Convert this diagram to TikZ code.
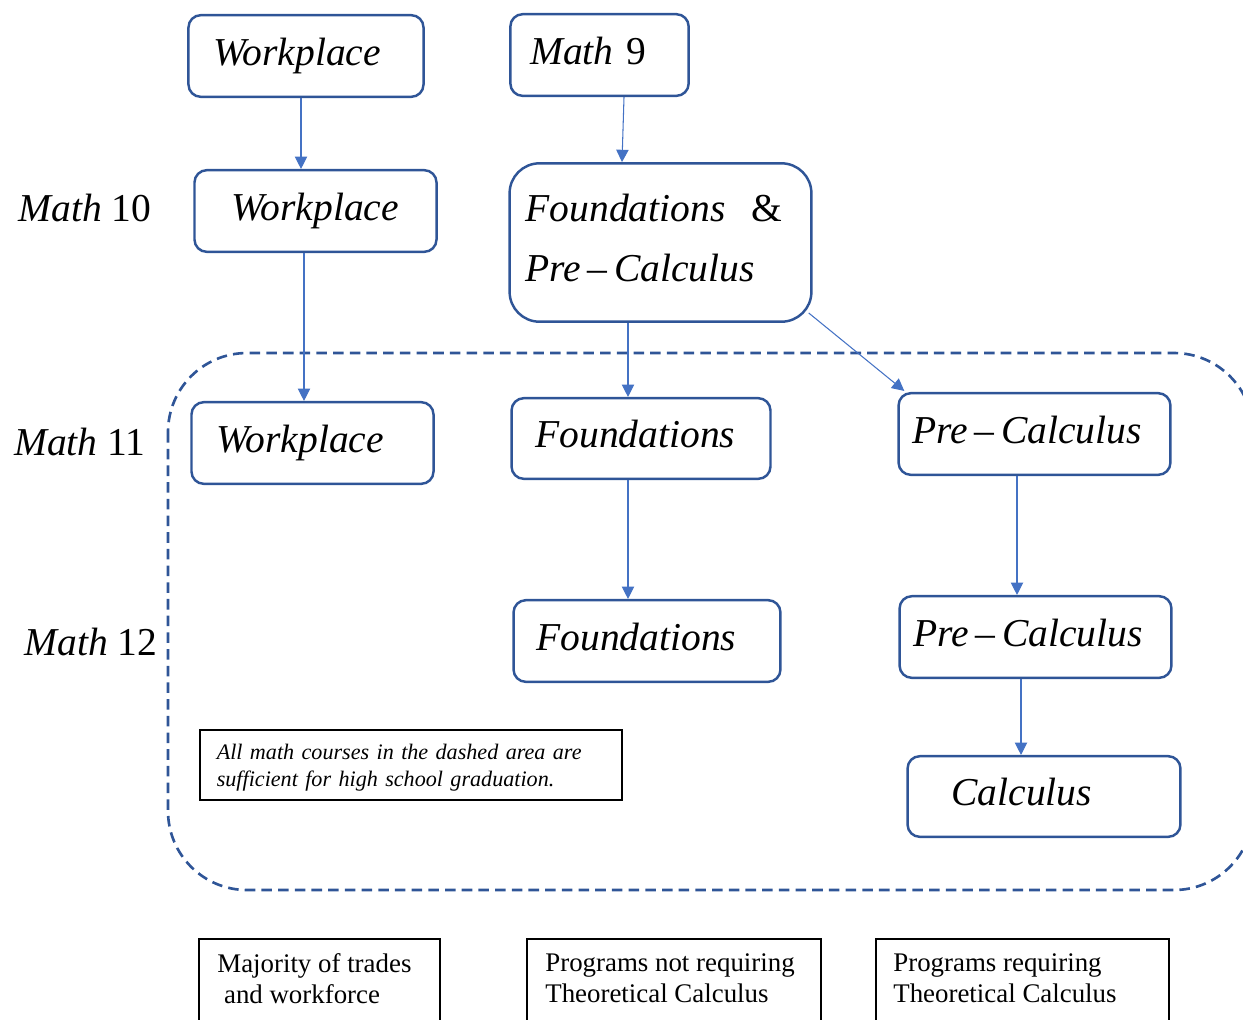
\documentclass[tikz,border=0pt]{standalone}
\usepackage{fontspec}
\setmainfont{Liberation Serif}
\usetikzlibrary{arrows.meta,calc}
\definecolor{boxblue}{HTML}{2F5597}
\definecolor{arrblue}{HTML}{4472C4}
\tikzset{
  x=0.02cm, y=-0.02cm,
  rbox/.style n args={3}{draw=boxblue, line width=1.4pt, rounded corners=7pt,
     minimum height=#2*0.5669pt, text width={(#1-2*#3)*0.5669pt}, inner xsep={#3*0.5669pt},
     inner ysep=0pt, align=left, text height=15.5pt, text depth=5pt,
     font=\fontsize{22.5}{30}\selectfont},
  note/.style={draw=black, line width=0.8pt, inner sep=0pt, align=left},
  arr/.style={draw=arrblue, line width=0.6pt, -{Triangle[width=7pt,length=7pt]}},
  lvl/.style={font=\fontsize{22.5}{30}\selectfont, inner sep=0pt},
  region/.style={draw=boxblue, line width=1.5pt, dash pattern=on 6pt off 3.5pt, rounded corners=45pt},
  botbox/.style={draw=black, line width=0.8pt},
  bottext/.style={anchor=north west, inner sep=0pt, align=left, font=\fontsize{15.3}{17.6}\selectfont}
}
\begin{document}
\begin{tikzpicture}
\useasboundingbox (0,0) rectangle (1243,1019);
% dashed region
\draw[region] (168,353) rectangle (1253,890);
% level labels
\node[lvl] (l10) at (85,208) {\itshape Math\upshape\ 10};
\node[lvl] (l11) at (80,442) {\itshape Math\upshape\ 11};
\node[lvl] (l12) at (91,642) {\itshape Math\upshape\ 12};
% boxes
\node[rbox={236}{82}{25}] (wp9) at (306,56) {\itshape Workplace};
\node[rbox={179}{82}{20}] (m9) at (599.5,55) {\itshape Math\upshape\ 9};
\node[rbox={243}{82}{37}] (wp10) at (315.5,211) {\itshape Workplace};
\node[rbox={303}{159}{16}, rounded corners=17pt, text height=, text depth=40.1pt,
  font=\fontsize{22.5}{34.5}\selectfont] (fpc) at (660.5,242.5)
  {\itshape Foundations\upshape\ \ \&\\\itshape Pre\,\upshape–\,\itshape Calculus};
\node[rbox={243}{82}{25}] (wp11) at (312.5,443) {\itshape Workplace};
\node[rbox={260}{81}{24}] (f11) at (641,438.5) {\itshape Foundations};
\node[rbox={273}{82}{14}] (pc11) at (1034.5,434) {\itshape Pre\,\upshape–\,\itshape Calculus};
\node[rbox={268}{82}{23}] (f12) at (647,641) {\itshape Foundations};
\node[rbox={273}{82}{14}] (pc12) at (1035.5,637) {\itshape Pre\,\upshape–\,\itshape Calculus};
\node[rbox={274}{81}{44}] (calc) at (1044,796.5) {\itshape Calculus};
% note
\node[note, minimum width=424*0.5669pt, minimum height=70*0.5669pt, text width=390*0.5669pt,
  text depth=14.7pt, font=\fontsize{12.6}{15.3}\selectfont\itshape] (nt) at (411,765)
  {All math courses in the dashed area are\\sufficient for high school graduation.};
% bottom boxes (cut off by the page edge)
\draw[botbox] (199,1040) |- (440,939) -- (440,1040);
\draw[botbox] (527,1040) |- (821,939) -- (821,1040);
\draw[botbox] (876,1040) |- (1169,939) -- (1169,1040);
\node[bottext] (b1) at (217,953) {Majority of trades\\\ and workforce};
\node[bottext] (b2) at (545,953) {Programs not requiring\\Theoretical Calculus};
\node[bottext] (b3) at (893,953) {Programs requiring\\Theoretical Calculus};
% arrows
\draw[arr] ($(wp9.south)+(-5,0)$) -- ($(wp10.north)+(-14.5,0)$);
\draw[arr] ($(m9.south)+(24.5,0)$) -- ($(fpc.north)+(-38.5,0)$);
\draw[arr] ($(wp10.south)+(-11.5,0)$) -- ($(wp11.north)+(-8.5,0)$);
\draw[arr] ($(fpc.south)+(-32.5,0)$) -- ($(f11.north)+(-13,0)$);
\draw[arr] ($(fpc.south east)+(-4,-10)$) -- ($(pc11.north west)+(7,-1)$);
\draw[arr] ($(f11.south)+(-13,0)$) -- ($(f12.north)+(-19,0)$);
\draw[arr] ($(pc11.south)+(-17.5,0)$) -- ($(pc12.north)+(-18.5,0)$);
\draw[arr] ($(pc12.south)+(-14.5,0)$) -- ($(calc.north)+(-23,0)$);
\end{tikzpicture}
\end{document}
